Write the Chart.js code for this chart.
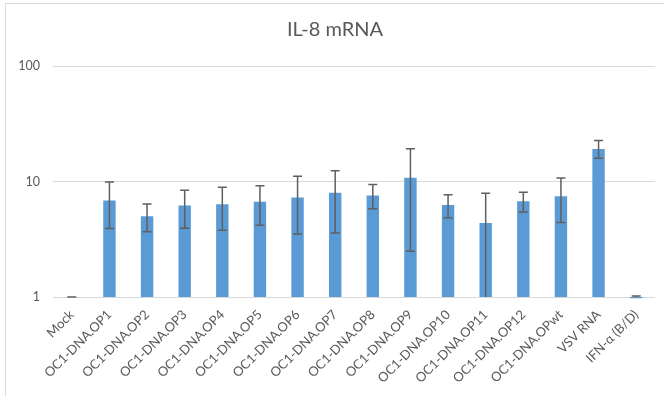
<!DOCTYPE html>
<html>
<head>
<meta charset="utf-8">
<script src="https://cdn.jsdelivr.net/npm/chart.js@4/dist/chart.umd.min.js"></script>
<style>
  html, body { margin: 0; padding: 0; background: #fff; }
  #wrap { position: relative; width: 664px; height: 396px; overflow: hidden; }
  #frame { position: absolute; left: 5px; top: 3px; width: 700px; height: 420px; border: 1px solid #d9d9d9; box-sizing: border-box; }
  #c { position: absolute; left: 0; top: 0; }
</style>
</head>
<body>
<div id="wrap">
  <div id="frame"></div>
  <canvas id="c" width="664" height="396"></canvas>
</div>
<script>
const title = "IL-8 mRNA";
const categories = ["Mock", "OC1-DNA.OP1", "OC1-DNA.OP2", "OC1-DNA.OP3", "OC1-DNA.OP4", "OC1-DNA.OP5",
  "OC1-DNA.OP6", "OC1-DNA.OP7", "OC1-DNA.OP8", "OC1-DNA.OP9", "OC1-DNA.OP10", "OC1-DNA.OP11",
  "OC1-DNA.OP12", "OC1-DNA.OPwt", "VSV RNA", "IFN-α (B/D)"];
const values   = [1.0, 6.86, 4.99, 6.21, 6.34, 6.69, 7.28, 7.99, 7.57, 10.8, 6.25, 4.37, 6.73, 7.47, 19.1, 0.975];
const errUpper = [1.0, 9.9, 6.37, 8.41, 8.93, 9.18, 11.1, 12.4, 9.42, 19.2, 7.68, 7.93, 8.09, 10.7, 22.6, 1.02];
const errLower = [1.0, 3.91, 3.68, 3.93, 3.78, 4.17, 3.51, 3.58, 5.81, 2.49, 4.86, 0.9, 5.44, 4.41, 15.9, 0.975];
const yTicks = [1, 10, 100];

const errorBars = {
  id: 'errorBars',
  afterDatasetsDraw(chart) {
    const ctx = chart.ctx;
    const meta = chart.getDatasetMeta(0);
    const y = chart.scales.y;
    ctx.save();
    ctx.strokeStyle = '#5f5f5f';
    ctx.lineWidth = 1.5;
    meta.data.forEach((bar, i) => {
      const x = bar.x;
      const yTop = y.getPixelForValue(errUpper[i]);
      const yBot = y.getPixelForValue(Math.max(errLower[i], y.min));
      ctx.beginPath();
      ctx.moveTo(x, yTop); ctx.lineTo(x, yBot);
      ctx.moveTo(x - 4.5, yTop); ctx.lineTo(x + 4.5, yTop);
      if (errLower[i] >= y.min) { ctx.moveTo(x - 4.5, yBot); ctx.lineTo(x + 4.5, yBot); }
      ctx.stroke();
    });
    ctx.restore();
  }
};

new Chart(document.getElementById('c'), {
  type: 'bar',
  data: {
    labels: categories,
    datasets: [{
      data: values,
      backgroundColor: '#5b9bd5',
      borderWidth: 0,
      barPercentage: 0.33,
      categoryPercentage: 1.0,
      clip: false
    }]
  },
  options: {
    responsive: false,
    animation: false,
    events: [],
    layout: { padding: { left: 15, right: 9, top: 0, bottom: 0 } },
    plugins: {
      legend: { display: false },
      tooltip: { enabled: false },
      title: {
        display: true,
        text: title,
        color: '#595959',
        font: { family: 'Lato', size: 20, weight: 'normal' },
        padding: { top: 18, bottom: 24 }
      }
    },
    scales: {
      x: {
        grid: { display: false },
        border: { display: false },
        ticks: {
          color: '#595959',
          font: { family: 'Lato', size: 13 },
          minRotation: 45, maxRotation: 45,
          autoSkip: false,
          padding: 2
        },
        afterFit(scale) { scale.height = 99; }
      },
      y: {
        type: 'logarithmic',
        min: 1, max: 100,
        border: { display: false },
        grid: { color: '#d9d9d9', lineWidth: 1, drawTicks: false },
        afterBuildTicks(scale) { scale.ticks = yTicks.map(v => ({ value: v })); },
        ticks: {
          color: '#595959',
          font: { family: 'Lato', size: 12.5 },
          padding: 13,
          callback: (v) => String(v)
        },
        afterFit(scale) { scale.width = 38; }
      }
    }
  },
  plugins: [errorBars]
});
</script>
</body>
</html>
